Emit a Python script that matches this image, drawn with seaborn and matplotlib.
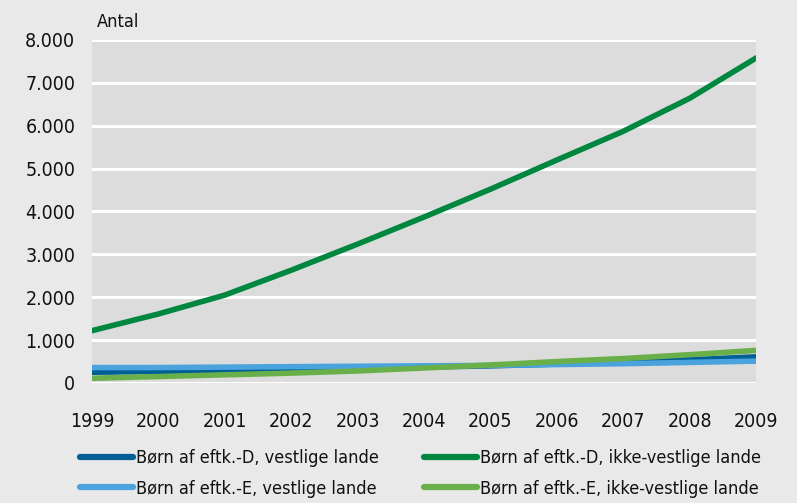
import seaborn as sns
import numpy as np
import pandas as pd
import matplotlib.pyplot as plt
from matplotlib.ticker import FuncFormatter

years = [1999, 2000, 2001, 2002, 2003, 2004, 2005, 2006, 2007, 2008, 2009]
d_vest = [250, 270, 290, 310, 340, 370, 400, 440, 490, 540, 610]
d_ikke = [1220, 1610, 2050, 2630, 3240, 3870, 4520, 5200, 5870, 6640, 7580]
e_vest = [360, 360, 370, 380, 390, 400, 410, 430, 450, 480, 510]
e_ikke = [110, 150, 190, 230, 280, 350, 420, 500, 570, 660, 760]

names = ["Børn af eftk.-D, vestlige lande",
         "Børn af eftk.-E, vestlige lande",
         "Børn af eftk.-D, ikke-vestlige lande",
         "Børn af eftk.-E, ikke-vestlige lande"]
colors = ["#005f95", "#4ba3de", "#00873f", "#6ab04a"]

df = pd.concat([pd.DataFrame({"year": years, "value": v, "serie": n})
                for v, n in zip([d_vest, e_vest, d_ikke, e_ikke], names)])

sns.set_style("white")
plt.rcParams['font.family'] = ['DejaVu Sans']
plt.rcParams['font.stretch'] = 'condensed'
plt.rcParams['text.color'] = '#111111'

fig = plt.figure(figsize=(7.97, 5.03), dpi=100, facecolor="#e9e9e9")
ax = fig.add_axes([0.1154, 0.2386, 0.8332, 0.6819])
ax.set_facecolor("#dcdcdc")

sns.lineplot(data=df, x="year", y="value", hue="serie", hue_order=names,
             palette=colors, linewidth=4, ax=ax, legend=False)

ax.set_xlim(1999, 2009)
ax.set_ylim(0, 8000)
ax.set_yticks(range(0, 8001, 1000))
ax.set_xticks(years)
ax.yaxis.set_major_formatter(FuncFormatter(lambda v, p: f"{int(v):,}".replace(",", ".")))
ax.grid(axis="y", color="white", linewidth=2.2)
ax.set_axisbelow(True)
for s in ax.spines.values():
    s.set_visible(False)
ax.tick_params(axis="both", length=0, labelsize=14, labelcolor="#111111")
ax.tick_params(axis="x", pad=21)
ax.tick_params(axis="y", pad=12)
ax.set_xlabel("")
ax.set_ylabel("")
ax.text(0.008, 1.025, "Antal", transform=ax.transAxes, fontsize=13, va="bottom")

handles = [plt.Line2D([], [], color=c, linewidth=4.5) for c in colors]
fig.legend(handles, names,
           ncol=2, loc="lower left", bbox_to_anchor=(0.094, 0.0), frameon=False,
           fontsize=13, handlelength=2.9, handletextpad=0.2, columnspacing=2.5,
           labelspacing=0.7, borderpad=0.3, borderaxespad=0)

fig.savefig("out.png", dpi=100, facecolor=fig.get_facecolor())
